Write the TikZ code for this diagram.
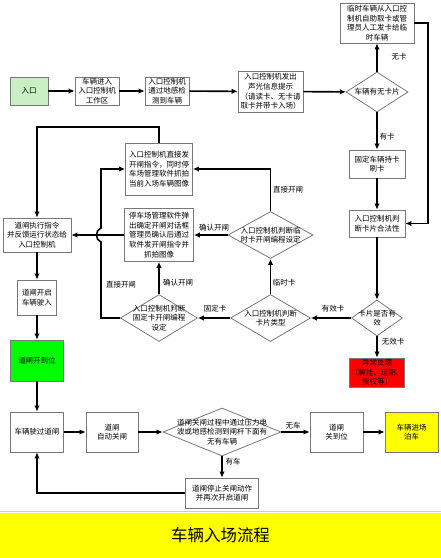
\documentclass[tikz,border=0pt]{standalone}
\usepackage{fontspec}
\setmainfont{Noto Sans CJK SC}
\usepackage{xcolor}
\usetikzlibrary{shapes.geometric,arrows.meta}
\definecolor{boxgray}{RGB}{120,120,120}
\definecolor{entrygreen}{RGB}{200,240,195}
\definecolor{opengreen}{RGB}{0,255,0}
\definecolor{errred}{RGB}{255,0,0}
\definecolor{parkyellow}{RGB}{255,255,0}

\begin{document}
\begin{tikzpicture}[x=1pt,y=-1pt,>={Latex[length=6pt,width=5.5pt]},
  blk/.style={draw=boxgray,line width=0.8pt,align=center,inner sep=1pt,font=\fontsize{7.5}{9.6}\selectfont},
  dmd/.style={draw=boxgray,line width=0.8pt,diamond,inner sep=0pt},
  txt/.style={align=center,inner sep=0pt,font=\fontsize{7.5}{9.6}\selectfont},
  lbl/.style={inner sep=1pt,font=\fontsize{7.5}{9}\selectfont},
  flow/.style={->,line width=1.6pt}]
\useasboundingbox (0,0) rectangle (441,558);
% top row
\node[blk,fill=entrygreen,minimum width=38pt,minimum height=28pt] (entry) at (29,91) {入口};
\node[blk,minimum width=44pt,minimum height=28pt] (enter) at (97,91) {车辆进入\\入口控制机\\工作区};
\node[blk,minimum width=44pt,minimum height=28pt] (sense) at (167,91) {入口控制机\\通过地感检\\测到车辆};
\node[blk,minimum width=65pt,minimum height=41pt] (prompt) at (270.5,91.5) {入口控制机发出\\声光信息提示\\（请读卡、无卡请\\取卡并带卡入场）};
\node[dmd,minimum width=62pt,minimum height=40pt,label={[txt,name=hascardtxt]center:车辆有无卡片}] (hascard) at (377,92) {};
\node[blk,minimum width=74pt,minimum height=40pt] (tmpcard) at (377,23) {临时车辆从入口控\\制机自助取卡或管\\理员人工发卡给临\\时车辆};
% right column
\node[blk,minimum width=56pt,minimum height=28pt] (fixcard) at (377,164) {固定车辆持卡\\刷卡};
\node[blk,minimum width=56pt,minimum height=27pt] (legal) at (377,223.5) {入口控制机判\\断卡片合法性};
\node[dmd,minimum width=51pt,minimum height=36pt,label={[txt,name=validtxt]center:卡片是否有\\效}] (valid) at (377,318) {};
\node[blk,fill=errred,minimum width=55pt,minimum height=29pt] (abnormal) at (377,372.5) {异常处理\\（解挂、延期、\\授权等）};
% middle
\node[dmd,minimum width=80pt,minimum height=47pt,label={[txt,name=cardtypetxt]center:入口控制机判断\\卡片类型}] (cardtype) at (270.5,318) {};
\node[dmd,minimum width=85pt,minimum height=47pt,label={[txt,name=tmpsettxt]center:入口控制机判断临\\时卡开闸编程设定}] (tmpset) at (270.5,235) {};
\node[blk,minimum width=67pt,minimum height=52pt] (direct) at (159,169) {入口控制机直接发\\开闸指令，同时停\\车场管理软件抓拍\\当前入场车辆图像};
\node[blk,minimum width=69pt,minimum height=53pt] (confirm) at (159,235) {停车场管理软件弹\\出确定开闸对话框\\管理员确认后通过\\软件发开闸指令并\\抓拍图像};
\node[dmd,minimum width=77pt,minimum height=47pt,label={[txt,name=fixsettxt]center:入口控制机判断\\固定卡开闸编程\\设定}] (fixset) at (159,318) {};
% left column
\node[blk,minimum width=68pt,minimum height=34pt] (execute) at (37,235) {道闸执行指令\\并反馈运行状态给\\入口控制机};
\node[blk,minimum width=39pt,minimum height=35pt] (gateopen) at (37,297.5) {道闸开启\\车辆驶入};
\node[blk,fill=opengreen,minimum width=53pt,minimum height=41pt] (opened) at (37,360.5) {道闸开到位};
% bottom row
\node[blk,minimum width=53pt,minimum height=40pt] (drivepass) at (37,432) {车辆驶过道闸};
\node[blk,minimum width=52pt,minimum height=40pt] (autoclose) at (112,432) {道闸\\自动关闸};
\node[dmd,minimum width=118pt,minimum height=48pt,label={[txt,name=detecttxt]center:道闸关闸过程中通过压力电\\波或地感检测到闸杆下面有\\无有车辆}] (detect) at (222,432) {};
\node[blk,minimum width=53pt,minimum height=40pt] (closed) at (336.5,432) {道闸\\关到位};
\node[blk,fill=parkyellow,minimum width=53pt,minimum height=40pt] (park) at (411.5,432) {车辆进场\\泊车};
\node[blk,minimum width=73pt,minimum height=30pt] (reopen) at (222,493) {道闸停止关闸动作\\并再次开启道闸};
\coordinate (rail) at (428,23);
\coordinate (hopb) at (101,242);
\coordinate (hopt) at (101,228);

\draw[flow] (entry) -- (enter);
\draw[flow] (enter) -- (sense);
\draw[flow] (sense) -- (prompt);
\draw[flow] (prompt) -- (hascard);
\draw[flow] (hascard) -- (tmpcard);
\draw[flow] (tmpcard.east) -- (rail) |- (legal.east);
\draw[flow] (hascard) -- (fixcard);
\draw[flow] (fixcard) -- (legal);
\draw[flow] (legal) -- (valid);
\draw[flow] (valid) -- (abnormal);
\draw[flow] (valid) -- (cardtype);
\draw[flow] (cardtype) -- (tmpset);
\draw[flow] (cardtype) -- (fixset);
\draw[flow] (tmpset.north) |- (direct.east);
\draw[flow] (tmpset) -- (confirm);
\draw[flow] (fixset) -- (confirm);
\draw[flow] (fixset.west) -- (fixset.west -| hopb) -- (hopb)
  .. controls (95,240) and (95,230) .. (hopt) -- (hopt |- direct.west) -- (direct.west);
\draw[flow] (confirm) -- (execute);
\draw[flow] (direct.north) -- (direct.north |- 0,127) -| (execute.north);
\draw[flow] (execute) -- (gateopen);
\draw[flow] (gateopen) -- (opened);
\draw[flow] (opened) -- (drivepass);
\draw[flow] (drivepass) -- (autoclose);
\draw[flow] (autoclose) -- (detect);
\draw[flow] (detect) -- (closed);
\draw[flow] (closed) -- (park);
\draw[flow] (detect) -- (reopen);
\draw[flow] (reopen.west) -| (drivepass.south);

\node[lbl] (nocard) at (399,57) {无卡};
\node[lbl] (withcard) at (387,137) {有卡};
\node[lbl] (invalid) at (393,342) {无效卡};
\node[lbl] (isvalid) at (333,309) {有效卡};
\node[lbl] (tmpkind) at (284,283) {临时卡};
\node[lbl] (fixkind) at (215,309) {固定卡};
\node[lbl] (directup) at (288,190) {直接开闸};
\node[lbl] (confirmup) at (214,228) {确认开闸};
\node[lbl] (confirmlow) at (178,283) {确认开闸};
\node[lbl] (directlow) at (121,285) {直接开闸};
\node[lbl] (nocar) at (293,426) {无车};
\node[lbl] (hascar) at (233,462) {有车};

% title band
\draw[gray!40] (0,511) -- (441,511);
\fill[parkyellow] (0,513) rectangle (441,558);
\node[font=\fontsize{16.5}{18}\selectfont] (title) at (220.5,535) {车辆入场流程};
\end{tikzpicture}
\end{document}
